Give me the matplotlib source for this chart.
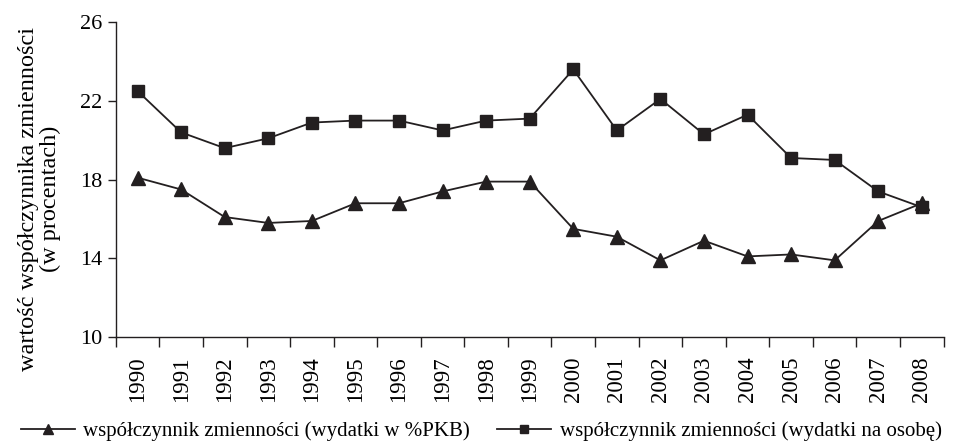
import numpy as np
import matplotlib.pyplot as plt
from matplotlib.ticker import FixedLocator

# =========================
# DATA
# =========================
years = [str(y) for y in range(1990, 2009)]
pkb = [18.1, 17.5, 16.1, 15.8, 15.9, 16.8, 16.8, 17.4, 17.9, 17.9,
       15.5, 15.1, 13.9, 14.9, 14.1, 14.2, 13.9, 15.9, 16.8]
osoba = [22.5, 20.4, 19.6, 20.1, 20.9, 21.0, 21.0, 20.5, 21.0, 21.1,
         23.6, 20.5, 22.1, 20.3, 21.3, 19.1, 19.0, 17.4, 16.6]
y_ticks = [10, 14, 18, 22, 26]

plt.rcParams['font.family'] = ['Liberation Serif', 'DejaVu Serif']

# =========================
# PLOT
# =========================
fig = plt.figure(figsize=(9.57, 4.43), dpi=100)
ax = fig.add_axes([0.121, 0.239, 0.865, 0.711])

x = np.arange(len(years))
c = '#231f20'
ax.plot(x, pkb, color=c, lw=1.3, marker='^', ms=10,
        label='współczynnik zmienności (wydatki w %PKB)')
ax.plot(x, osoba, color=c, lw=1.3, marker='s', ms=8.5,
        label='współczynnik zmienności (wydatki na osobę)')

ax.set_xlim(-0.5, len(years) - 0.5)
ax.set_ylim(10, 26)
ax.set_yticks(y_ticks)
ax.set_xticks(x)
ax.set_xticklabels(years, rotation=90, fontsize=16.5)
ax.xaxis.set_minor_locator(FixedLocator(np.arange(-0.5, len(years), 1)))
ax.tick_params(axis='x', which='major', length=0, pad=14)
ax.tick_params(axis='x', which='minor', length=7, width=1, color=c)
ax.tick_params(axis='y', labelsize=16, length=6, width=1, color=c)

for s in ['top', 'right']:
    ax.spines[s].set_visible(False)
for s in ['left', 'bottom']:
    ax.spines[s].set_color(c)
    ax.spines[s].set_linewidth(1)

ax.set_ylabel('wartość współczynnika zmienności\n(w procentach)', fontsize=17.5,
              linespacing=1.05)
ax.yaxis.set_label_coords(-0.066, 0.44)

fig.legend(loc='center', bbox_to_anchor=(0.503, 0.026), ncol=2, frameon=False,
           fontsize=15, handlelength=2.6, handletextpad=0.4, columnspacing=1.3,
           markerscale=0.7, borderpad=0, borderaxespad=0)

fig.savefig('out.png', dpi=100)
plt.close()
